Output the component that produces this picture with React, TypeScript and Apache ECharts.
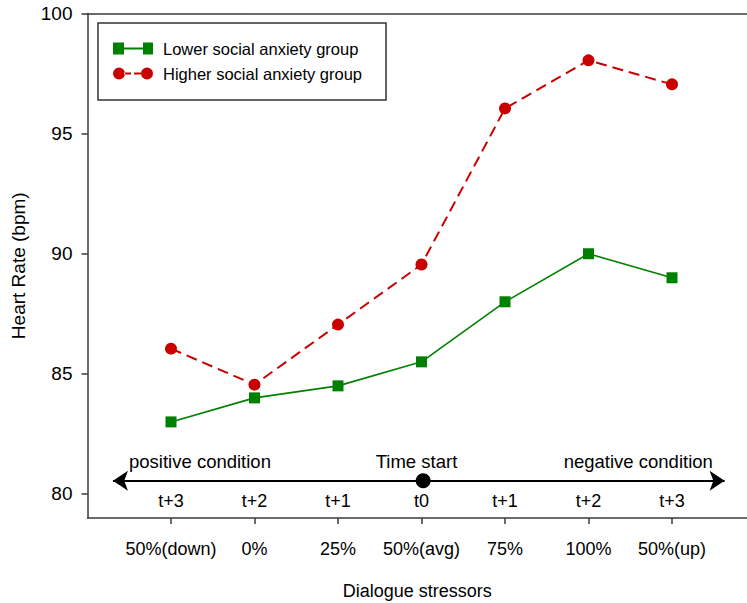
import React, { useEffect, useRef } from "react";
import * as echarts from "echarts";

const categories = ["50%(down)", "0%", "25%", "50%(avg)", "75%", "100%", "50%(up)"];
const timeLabels = ["t+3", "t+2", "t+1", "t0", "t+1", "t+2", "t+3"];
const lowerName = "Lower social anxiety group";
const higherName = "Higher social anxiety group";
const lowerValues = [83, 84, 84.5, 85.5, 88, 90, 89];
const higherValues = [86.05, 84.55, 87.05, 89.55, 96.05, 98.05, 97.05];
const yTicks = [80, 85, 90, 95, 100];
const arrowY = 80.55;
const arrowStartX = 0.305;
const arrowEndX = 7.63;
const timeStartX = 4.02;
const annotationTexts = ["positive condition", "Time start", "negative condition"];
const annotationX = [1.347, 3.94, 6.596];
const annotationY = 81.37;
const timeLabelY = 79.71;

const FONT = "'Liberation Sans', Arial, sans-serif";

const greenIcon = "path://M0,0h11v12h-11z M11,5h19v2h-19z M30,0h10v12h-10z";
const redIcon =
  "path://M0,6a6,6 0 1,0 12,0a6,6 0 1,0 -12,0z M11,5h7v2h-7z M21,5h7v2h-7z M28,6a6,6 0 1,0 12,0a6,6 0 1,0 -12,0z";

export default function App() {
  const ref = useRef<HTMLDivElement>(null);
  useEffect(() => {
    if (!ref.current) return;
    const chart = echarts.init(ref.current, undefined, { renderer: "svg" });
    const xs = categories.map((_, i) => i + 1);
    const axisColor = "#3a3a3a";
    chart.setOption({
      animation: false,
      backgroundColor: "#ffffff",
      textStyle: { fontFamily: FONT },
      grid: { left: 87.5, top: 13.5, right: 0, bottom: 85, outerBoundsMode: "none", containLabel: false },
      legend: {
        data: [
          { name: lowerName, icon: greenIcon, itemStyle: { color: "#008000" } },
          { name: higherName, icon: redIcon, itemStyle: { color: "#c80000" } },
        ],
        orient: "vertical",
        left: 98,
        top: 23,
        borderColor: "#333",
        borderWidth: 1.5,
        padding: [17, 24, 18, 15],
        itemGap: 8,
        itemWidth: 40,
        itemHeight: 12,
        textStyle: { fontSize: 16.5, color: "#000", fontFamily: FONT, padding: [0, 0, 0, 5] },
        selectedMode: false,
      },
      xAxis: [
        {
          type: "value",
          min: 0,
          max: 659.5 / 83.5,
          name: "Dialogue stressors",
          nameLocation: "middle",
          nameGap: 64,
          nameTextStyle: { fontSize: 18, color: "#000", fontFamily: FONT },
          axisLine: { show: true, onZero: false, lineStyle: { color: axisColor, width: 1.5 } },
          axisTick: { show: true, customValues: xs, length: 6, lineStyle: { color: axisColor, width: 1.5 } },
          axisLabel: {
            customValues: xs,
            margin: 22,
            fontSize: 18,
            color: "#000",
            fontFamily: FONT,
            formatter: (v: number) => categories[Math.round(v) - 1] ?? "",
          },
          splitLine: { show: false },
        },
        {
          type: "value",
          position: "top",
          min: 0,
          max: 659.5 / 83.5,
          axisLine: { show: true, onZero: false, lineStyle: { color: axisColor, width: 1.5 } },
          axisTick: { show: false },
          axisLabel: { show: false },
          splitLine: { show: false },
        },
      ],
      yAxis: {
        type: "value",
        min: 79,
        max: 100,
        name: "Heart Rate (bpm)",
        nameLocation: "middle",
        nameGap: 60,
        nameTextStyle: { fontSize: 19, color: "#000", fontFamily: FONT },
        axisLine: { show: true, onZero: false, lineStyle: { color: axisColor, width: 1.5 } },
        axisTick: { show: true, customValues: yTicks, length: 6, lineStyle: { color: axisColor, width: 1.5 } },
        axisLabel: { customValues: yTicks, margin: 15, fontSize: 19, color: "#000", fontFamily: FONT },
        splitLine: { show: false },
      },
      series: [
        {
          name: lowerName,
          type: "line",
          data: lowerValues.map((v, i) => [xs[i], v]),
          symbol: "rect",
          symbolSize: 11,
          itemStyle: { color: "#008000" },
          lineStyle: { color: "#008000", width: 1.6 },
          z: 3,
        },
        {
          name: higherName,
          type: "line",
          data: higherValues.map((v, i) => [xs[i], v]),
          symbol: "circle",
          symbolSize: 12,
          itemStyle: { color: "#c80000" },
          lineStyle: { color: "#c80000", width: 2, type: [11, 6] },
          z: 3,
        },
        {
          name: "timeline",
          type: "scatter",
          data: [[timeStartX, arrowY]],
          symbol: "circle",
          symbolSize: 15,
          itemStyle: { color: "#000", opacity: 1 },
          z: 5,
          markLine: {
            silent: true,
            symbol: ["arrow", "arrow"],
            symbolSize: 15,
            lineStyle: { color: "#000", width: 2, type: "solid" },
            label: { show: false },
            data: [[{ coord: [arrowStartX, arrowY] }, { coord: [arrowEndX, arrowY] }]],
          },
        },
        {
          name: "timeLabels",
          type: "scatter",
          data: timeLabels.map((t, i) => ({ value: [xs[i], timeLabelY], name: t })),
          symbolSize: 0,
          itemStyle: { opacity: 1 },
          label: {
            show: true,
            position: "inside",
            formatter: (p: any) => p.name,
            fontSize: 18,
            color: "#000",
            fontFamily: FONT,
          },
        },
        {
          name: "annotations",
          type: "scatter",
          data: annotationTexts.map((t, i) => ({ value: [annotationX[i], annotationY], name: t })),
          symbolSize: 0,
          itemStyle: { opacity: 1 },
          label: {
            show: true,
            position: "inside",
            formatter: (p: any) => p.name,
            fontSize: 18.5,
            color: "#000",
            fontFamily: FONT,
          },
        },
      ],
    });
    return () => chart.dispose();
  }, []);
  return (
    <div
      ref={ref}
      style={{ position: "fixed", left: 0, top: 0, width: 747, height: 603, background: "#fff" }}
    />
  );
}
